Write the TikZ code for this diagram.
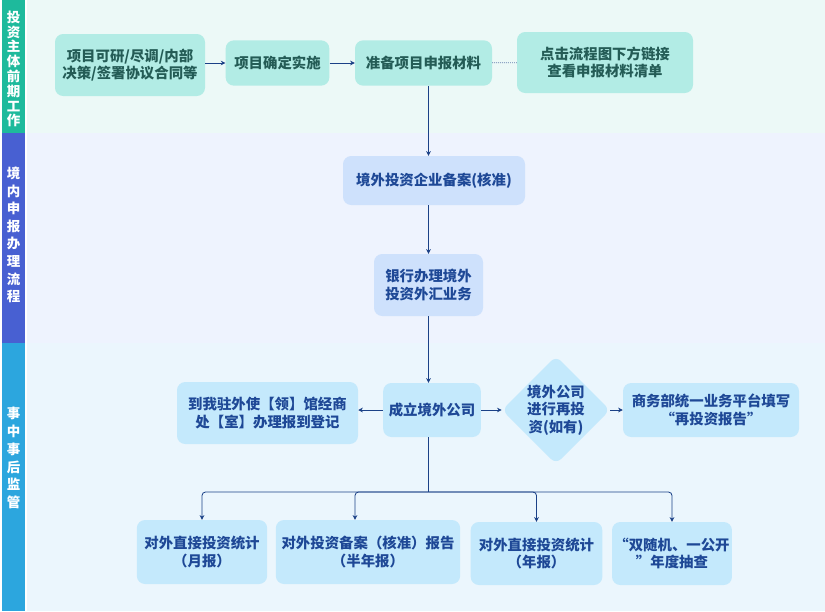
\documentclass[tikz,border=0pt]{standalone}
\usepackage{fontspec}
\setmainfont{Noto Sans CJK SC}
\usepackage{tikz}
\usetikzlibrary{positioning,arrows.meta,shapes.geometric,calc}
\definecolor{laneteal}{RGB}{30,186,156}
\definecolor{laneblue}{RGB}{72,96,210}
\definecolor{lanesky}{RGB}{44,166,222}
\definecolor{tealbg}{RGB}{236,249,247}
\definecolor{bluebg}{RGB}{238,243,254}
\definecolor{skybg}{RGB}{235,246,253}
\definecolor{tealbox}{RGB}{178,236,229}
\definecolor{bluebox}{RGB}{206,225,252}
\definecolor{skybox}{RGB}{196,233,252}
\definecolor{tealtext}{RGB}{36,92,86}
\definecolor{bluetext}{RGB}{30,72,150}
\colorlet{linkblue}{bluetext!90!black}

\begin{document}
\begin{tikzpicture}[x=.3mm,y=-.3mm,every node/.style={font=\fontsize{12.3}{15}\selectfont\bfseries,inner sep=2pt},
  lanebar/.style={text=white,align=center},
  tealstep/.style={rounded corners=7pt,fill=tealbox,text=tealtext,align=center},
  bluestep/.style={rounded corners=7pt,fill=bluebox,text=bluetext,align=center},
  skystep/.style={rounded corners=7pt,fill=skybox,text=bluetext,align=center},
  link/.style={-{Stealth[length=4pt,width=4pt]},linkblue,line width=.7pt}]
    \useasboundingbox (0,0) rectangle (825,611);
    % lanes
    \fill[tealbg] (27,0) rectangle (825,133);
    \fill[bluebg] (27,133) rectangle (825,343);
    \fill[skybg] (27,343) rectangle (825,611);
    \fill[laneteal] (2,0) rectangle (25,133);
    \fill[laneblue] (2,133) rectangle (25,343);
    \fill[lanesky] (2,343) rectangle (25,611);
    \node[lanebar,font=\fontsize{11.5}{12.6}\selectfont\bfseries] (lane1) at (13.5,69) {投\\资\\主\\体\\前\\期\\工\\作};
    \node[lanebar,font=\fontsize{11.5}{15}\selectfont\bfseries] (lane2) at (13.5,235) {境\\内\\申\\报\\办\\理\\流\\程};
    \node[lanebar,font=\fontsize{11.5}{15.2}\selectfont\bfseries] (lane3) at (13.5,458) {事\\中\\事\\后\\监\\管};
    % before the project
    \node[tealstep,minimum width=45mm,minimum height=18.6mm] (study) at (130,65) {项目可研/尽调/内部\\决策/签署协议合同等};
    \node[tealstep,minimum width=31.1mm,minimum height=13.6mm] (decide) at (277.5,63) {项目确定实施};
    \node[tealstep,minimum width=41.1mm,minimum height=13.6mm] (prepare) at (423.5,63) {准备项目申报材料};
    \node[tealstep,minimum width=52.8mm,minimum height=18.3mm] (checklist) at (605,62.5) {点击流程图下方链接\\查看申报材料清单};
    \draw[link] (study.east |- decide) -- (decide);
    \draw[link] (decide) -- (prepare);
    \draw[densely dotted,linkblue!70,line width=.7pt] (prepare) -- (checklist);
    % filing at home
    \node[bluestep,minimum width=54.6mm,minimum height=14.7mm] (filing) at (434,180.5) {境外投资企业备案(核准)};
    \node[bluestep,minimum width=32.7mm,minimum height=18.6mm] (bank) at (428.5,285) {银行办理境外\\投资外汇业务};
    \draw[link] (prepare.south -| bank) -- (filing.north -| bank);
    \draw[link] (filing.south -| bank) -- (bank);
    % supervision
    \node[skystep,minimum width=29.3mm,minimum height=16.2mm] (setup) at (432,410) {成立境外公司};
    \node[skystep,minimum width=54.3mm,minimum height=18.6mm] (visit) at (267.5,413) {到我驻外使【领】馆经商\\处【室】办理报到登记};
    \node[diamond,fill=skybox,text=bluetext,align=center,rounded corners=6pt,inner sep=0pt,minimum width=31.8mm,minimum height=30.6mm] (reinvest) at (556,410) {境外公司\\进行再投\\资(如有)};
    \node[skystep,minimum width=52.8mm,minimum height=16.2mm] (report) at (711,410) {商务部统一业务平台填写\\“再投资报告”};
    \draw[link] (bank) -- (setup.north -| bank);
    \draw[link] (setup.west) -- (setup.west -| visit.east);
    \draw[link] (setup) -- (reinvest);
    \draw[link] (reinvest) -- (report);
    \node[skystep,minimum width=39.1mm,minimum height=19.2mm] (monthly) at (202,552) {对外直接投资统计\\（月报）};
    \node[skystep,minimum width=55.3mm,minimum height=19.2mm] (halfyear) at (368,552) {对外投资备案（核准）报告\\（半年报）};
    \node[skystep,minimum width=39.5mm,minimum height=18.9mm] (yearly) at (536.5,553.5) {对外直接投资统计\\（年报）};
    \node[skystep,minimum width=35.9mm,minimum height=18.9mm] (spotcheck) at (672,553.5) {“双随机、一公开\\”年度抽查};
    \coordinate (split) at (428.5,492);
    \draw[linkblue,line width=.7pt] (setup.south -| split) -- (split);
    \draw[link,rounded corners=3pt] (split) -| (monthly);
    \draw[link,rounded corners=3pt] (split) -| ($(halfyear.north)+(-13,0)$);
    \draw[link,rounded corners=3pt] (split) -| (yearly);
    \draw[link,rounded corners=3pt] (split) -| (spotcheck);
  \end{tikzpicture}
\end{document}
